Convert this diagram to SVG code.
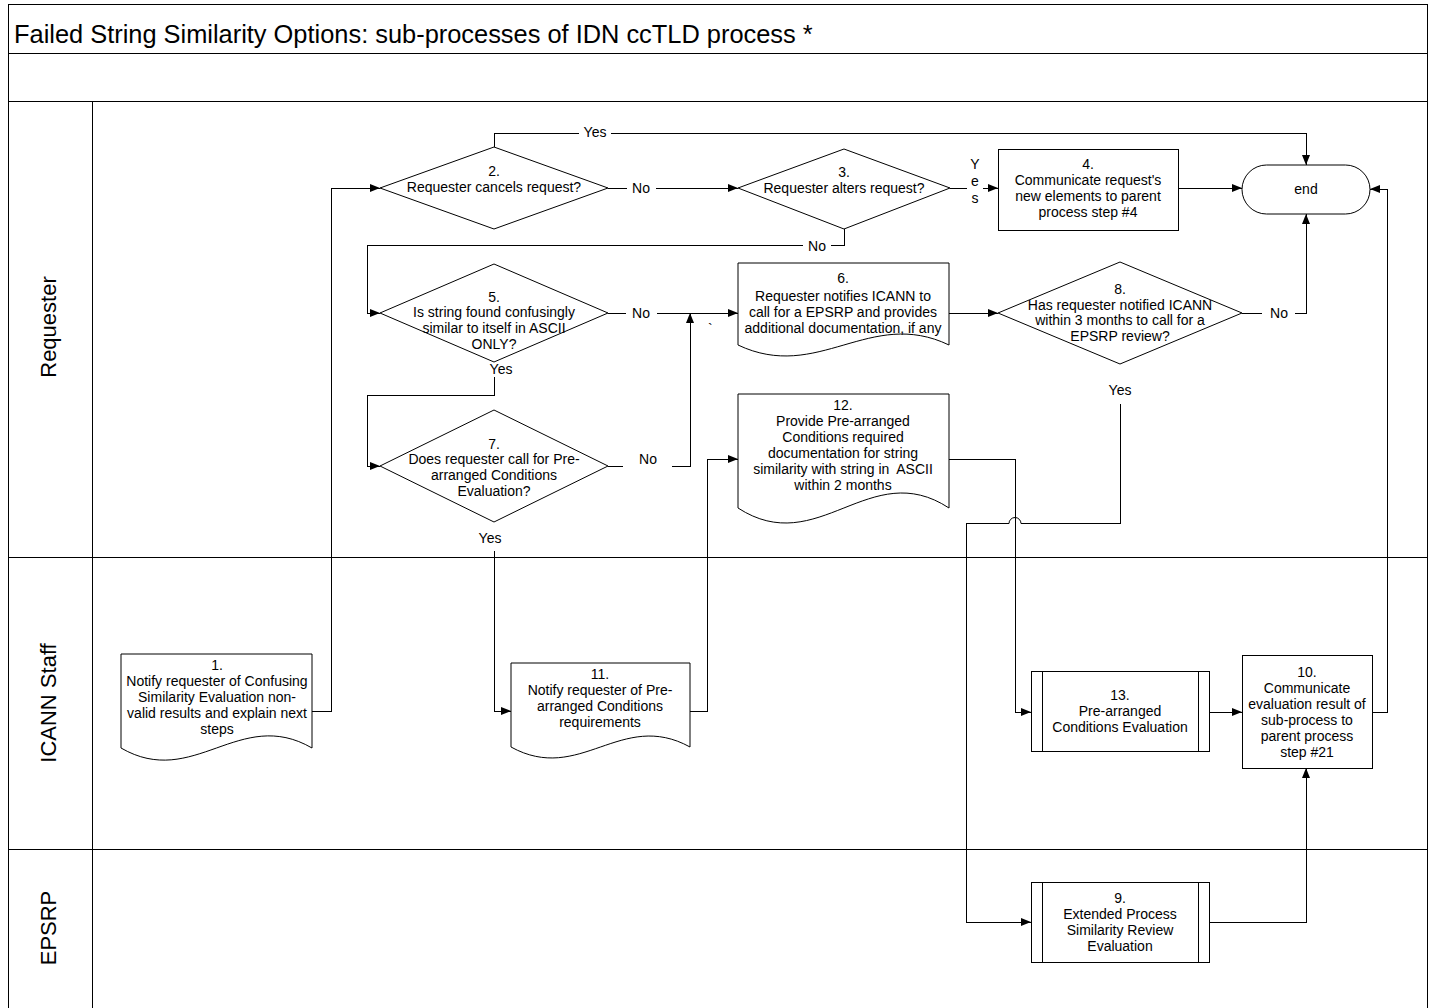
<svg xmlns="http://www.w3.org/2000/svg" width="1429" height="1008" viewBox="0 0 1429 1008">
<defs>
<style>
.frame{fill:none;stroke:#000;stroke-width:1;shape-rendering:crispEdges}
.node{fill:#fff;stroke:#000;stroke-width:1}
.box{fill:#fff;stroke:#000;stroke-width:1;shape-rendering:crispEdges}
.conn{fill:none;stroke:#000;stroke-width:1;shape-rendering:crispEdges}
text{font-family:"Liberation Sans",Arial,sans-serif;font-size:14px;fill:#000}
.c{text-anchor:middle;dominant-baseline:central}
.title{font-size:25.4px}
.lane{font-size:22px;text-anchor:middle;dominant-baseline:central}
</style>
<marker id="arr" viewBox="0 0 10 8" refX="10" refY="4" markerWidth="10" markerHeight="8" markerUnits="userSpaceOnUse" orient="auto">
<path d="M0,0 L10,4 L0,8 z" fill="#000"/>
</marker>
</defs>
<rect x="0" y="0" width="1429" height="1008" fill="#fff"/>
<g id="frame">
<rect class="frame" x="8" y="4" width="1419" height="1010"/>
<line class="frame" x1="8" y1="53" x2="1427" y2="53"/>
<line class="frame" x1="8" y1="101" x2="1427" y2="101"/>
<line class="frame" x1="92" y1="101" x2="92" y2="1008"/>
<line class="frame" x1="8" y1="557" x2="1427" y2="557"/>
<line class="frame" x1="8" y1="849" x2="1427" y2="849"/>
<text class="title" x="14" y="43">Failed String Similarity Options: sub-processes of IDN ccTLD process *</text>
<text class="lane" transform="translate(48,327) rotate(-90)">Requester</text>
<text class="lane" transform="translate(48,703) rotate(-90)">ICANN Staff</text>
<text class="lane" transform="translate(48,928) rotate(-90)">EPSRP</text>
</g>
<g id="connectors">
<path class="conn" d="M312,711 H331 V188 H380" marker-end="url(#arr)"/>
<path class="conn" d="M494,147 V133 H579 M611,133 H1306 V165" marker-end="url(#arr)"/>
<text class="c" x="595" y="132">Yes</text>
<path class="conn" d="M608,188 H627 M656,188 H738" marker-end="url(#arr)"/>
<text class="c" x="641" y="188">No</text>
<path class="conn" d="M950,188 H967 M983,188 H998" marker-end="url(#arr)"/>
<text class="c" x="975" y="164">Y</text>
<text class="c" x="975" y="181">e</text>
<text class="c" x="975" y="198">s</text>
<path class="conn" d="M844,229 V245 H831 M803,245 H367 V313 H380" marker-end="url(#arr)"/>
<text class="c" x="817" y="246">No</text>
<path class="conn" d="M1178,188 H1242" marker-end="url(#arr)"/>
<path class="conn" d="M494,377 V395 H367 V466 H380" marker-end="url(#arr)"/>
<text class="c" x="501" y="369">Yes</text>
<path class="conn" d="M608,313 H626 M657,313 H738" marker-end="url(#arr)"/>
<text class="c" x="641" y="313">No</text>
<text x="708" y="334">`</text>
<path class="conn" d="M608,466 H623 M672,466 H690 V313" marker-end="url(#arr)"/>
<text class="c" x="648" y="459">No</text>
<path class="conn" d="M494,551 V711 H511" marker-end="url(#arr)"/>
<text class="c" x="490" y="538">Yes</text>
<path class="conn" d="M690,711 H707 V459 H738" marker-end="url(#arr)"/>
<path class="conn" d="M949,313 H998" marker-end="url(#arr)"/>
<path class="conn" d="M1242,313 H1262 M1295,313 H1306 V214" marker-end="url(#arr)"/>
<text class="c" x="1279" y="313">No</text>
<path class="conn" d="M1120,404 V523 H1021 M1009,523 H966 V922 H1031" marker-end="url(#arr)"/>
<path d="M1021,523.5 A6,6 0 0 0 1009,523.5" fill="none" stroke="#000" stroke-width="1"/>
<text class="c" x="1120" y="390">Yes</text>
<path class="conn" d="M949,459 H1015 V712 H1031" marker-end="url(#arr)"/>
<path class="conn" d="M1209,712 H1242" marker-end="url(#arr)"/>
<path class="conn" d="M1372,712 H1387 V189 H1370" marker-end="url(#arr)"/>
<path class="conn" d="M1209,922 H1306 V768" marker-end="url(#arr)"/>
</g>
<g id="n2">
<polygon class="node" points="494,147 608,188 494,229 380,188"/>
<text class="c" x="494" y="171">2.</text>
<text class="c" x="494" y="187">Requester cancels request?</text>
</g>
<g id="n3">
<polygon class="node" points="844,149 950,188 844,229 738,188"/>
<text class="c" x="844" y="172">3.</text>
<text class="c" x="844" y="188">Requester alters request?</text>
</g>
<g id="n4">
<rect class="box" x="998" y="149" width="180" height="81"/>
<text class="c" x="1088" y="164">4.</text>
<text class="c" x="1088" y="180">Communicate request's</text>
<text class="c" x="1088" y="196">new elements to parent</text>
<text class="c" x="1088" y="212">process step #4</text>
</g>
<g id="end">
<rect class="node" x="1242" y="165" width="128" height="49" rx="24.5" ry="24.5"/>
<text class="c" x="1306" y="189">end</text>
</g>
<g id="n5">
<polygon class="node" points="494,264 608,313 494,362 380,313"/>
<text class="c" x="494" y="297">5.</text>
<text class="c" x="494" y="312">Is string found confusingly</text>
<text class="c" x="494" y="328">similar to itself in ASCII</text>
<text class="c" x="494" y="344">ONLY?</text>
</g>
<g id="n6">
<path class="node" d="M738,263 H949 V345 C869.8,307 818.2,383 738,345 Z"/>
<text class="c" x="843" y="278">6.</text>
<text class="c" x="843" y="296">Requester notifies ICANN to</text>
<text class="c" x="843" y="312">call for a EPSRP and provides</text>
<text class="c" x="843" y="328">additional documentation, if any</text>
</g>
<g id="n8">
<polygon class="node" points="1120,262 1242,313 1120,364 998,313"/>
<text class="c" x="1120" y="289">8.</text>
<text class="c" x="1120" y="305">Has requester notified ICANN</text>
<text class="c" x="1120" y="320">within 3 months to call for a</text>
<text class="c" x="1120" y="336">EPSRP review?</text>
</g>
<g id="n7">
<polygon class="node" points="494,410 608,466 494,522 380,466"/>
<text class="c" x="494" y="444">7.</text>
<text class="c" x="494" y="459">Does requester call for Pre-</text>
<text class="c" x="494" y="475">arranged Conditions</text>
<text class="c" x="494" y="491">Evaluation?</text>
</g>
<g id="n12">
<path class="node" d="M738,394 H949 V508 C869.8,456 818.2,560 738,508 Z"/>
<text class="c" x="843" y="405">12.</text>
<text class="c" x="843" y="421">Provide Pre-arranged</text>
<text class="c" x="843" y="437">Conditions required</text>
<text class="c" x="843" y="453">documentation for string</text>
<text class="c" x="843" y="469" xml:space="preserve">similarity with string in  ASCII</text>
<text class="c" x="843" y="485">within 2 months</text>
</g>
<g id="n1">
<path class="node" d="M121,654 H312 V748 C239.6,706 193.4,790 121,748 Z"/>
<text class="c" x="217" y="665">1.</text>
<text class="c" x="217" y="681">Notify requester of Confusing</text>
<text class="c" x="217" y="697">Similarity Evaluation non-</text>
<text class="c" x="217" y="713">valid results and explain next</text>
<text class="c" x="217" y="729">steps</text>
</g>
<g id="n11">
<path class="node" d="M511,663 H690 V747 C621,709 580,785 511,747 Z"/>
<text class="c" x="600" y="674">11.</text>
<text class="c" x="600" y="690">Notify requester of Pre-</text>
<text class="c" x="600" y="706">arranged Conditions</text>
<text class="c" x="600" y="722">requirements</text>
</g>
<g id="n13">
<rect class="box" x="1031" y="671" width="178" height="80"/>
<line class="conn" x1="1042" y1="671" x2="1042" y2="751"/>
<line class="conn" x1="1198" y1="671" x2="1198" y2="751"/>
<text class="c" x="1120" y="695">13.</text>
<text class="c" x="1120" y="711">Pre-arranged</text>
<text class="c" x="1120" y="727">Conditions Evaluation</text>
</g>
<g id="n10">
<rect class="box" x="1242" y="655" width="130" height="113"/>
<text class="c" x="1307" y="672">10.</text>
<text class="c" x="1307" y="688">Communicate</text>
<text class="c" x="1307" y="704">evaluation result of</text>
<text class="c" x="1307" y="720">sub-process to</text>
<text class="c" x="1307" y="736">parent process</text>
<text class="c" x="1307" y="752">step #21</text>
</g>
<g id="n9">
<rect class="box" x="1031" y="882" width="178" height="80"/>
<line class="conn" x1="1042" y1="882" x2="1042" y2="962"/>
<line class="conn" x1="1198" y1="882" x2="1198" y2="962"/>
<text class="c" x="1120" y="898">9.</text>
<text class="c" x="1120" y="914">Extended Process</text>
<text class="c" x="1120" y="930">Similarity Review</text>
<text class="c" x="1120" y="946">Evaluation</text>
</g>
</svg>
